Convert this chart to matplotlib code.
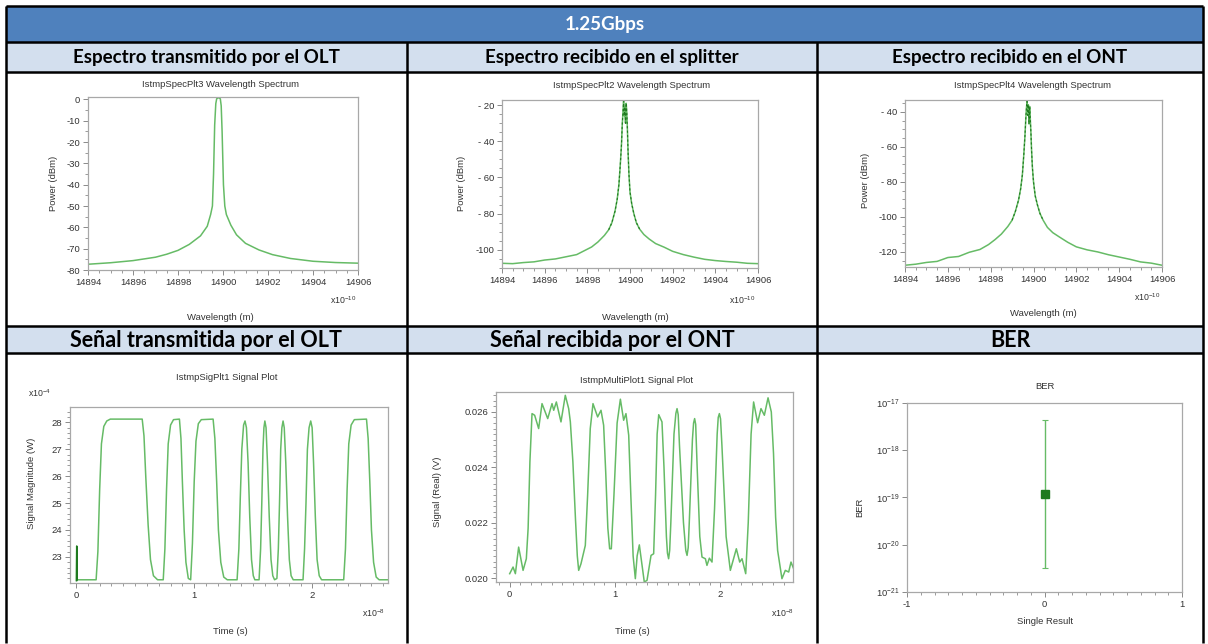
import matplotlib
matplotlib.use("Agg")
import matplotlib.pyplot as plt
from matplotlib.ticker import MultipleLocator, FixedLocator, FuncFormatter, NullLocator

W, H = 1208, 644

# ---------------- data ----------------
table_title = "1.25Gbps"
row1_headers = ["Espectro transmitido por el OLT",
                "Espectro recibido en el splitter",
                "Espectro recibido en el ONT"]
row2_headers = ["Señal transmitida por el OLT",
                "Señal recibida por el ONT",
                "BER"]

# Spectrum at the OLT output (wavelength in units of 1e-10 m, power in dBm)
wl_olt = [14894.0, 14895.0, 14896.0, 14897.0, 14897.5, 14898.0, 14898.5, 14899.0,
          14899.3, 14899.45, 14899.53, 14899.58, 14899.63, 14899.68, 14899.72,
          14899.80, 14899.88, 14899.92, 14899.96, 14900.02, 14900.08, 14900.15,
          14900.35, 14900.6, 14901.0, 14901.6, 14902.2, 14903.0, 14904.0,
          14905.0, 14906.0]
pw_olt = [-77.3, -76.6, -75.6, -74.0, -72.6, -70.8, -68.0, -64.0,
          -59.5, -54.0, -50.0, -35.0, -12.0, -2.0, 0.3,
          0.8, 0.3, -3.0, -15.0, -40.0, -50.0, -54.0,
          -59.0, -63.5, -67.5, -70.6, -72.8, -74.6, -75.9,
          -76.5, -76.8]

# Spectrum after the splitter
wl_split = [14894.0, 14894.5, 14895.0, 14895.5, 14896.0, 14896.5, 14897.0, 14897.5,
            14897.9, 14898.2, 14898.5, 14898.8, 14899.0, 14899.15, 14899.3, 14899.4,
            14899.48, 14899.55, 14899.6, 14899.64, 14899.67, 14899.70, 14899.73,
            14899.76, 14899.79, 14899.82, 14899.85, 14899.88, 14899.91, 14899.95,
            14900.0, 14900.08, 14900.18, 14900.3, 14900.45, 14900.65, 14900.9,
            14901.2, 14901.6, 14902.0, 14902.5, 14903.0, 14903.5, 14904.0,
            14904.5, 14905.0, 14905.5, 14906.0]
pw_split = [-107.4, -107.6, -107.0, -106.6, -105.6, -105.0, -103.8, -102.6,
            -100.2, -98.4, -95.6, -92.0, -88.9, -85.0, -78.5, -72.0,
            -64.0, -52.0, -42.0, -30.0, -24.0, -17.8, -26.0,
            -21.0, -30.0, -19.0, -24.0, -34.0, -46.0, -58.0,
            -68.0, -74.5, -80.0, -85.0, -88.5, -91.5, -94.0,
            -96.5, -98.5, -100.8, -102.6, -104.0, -105.2, -105.9,
            -106.4, -106.8, -107.4, -107.6]

# Spectrum received at the ONT
wl_ont = wl_split
pw_ont = [-127.6, -127.0, -126.0, -125.4, -123.2, -122.6, -120.2, -118.6,
          -115.8, -113.0, -109.8, -105.5, -101.9, -97.0, -90.5, -84.0,
          -76.0, -64.0, -54.0, -44.0, -38.0, -34.0, -42.0,
          -36.0, -47.0, -37.0, -44.0, -52.0, -62.0, -72.0,
          -80.0, -88.0, -93.0, -98.0, -101.9, -106.0, -109.0,
          -111.4, -114.5, -117.1, -118.8, -120.0, -121.6, -122.9,
          -124.2, -125.7, -126.4, -127.6]

# Transmitted signal (time in 1e-8 s, magnitude in 1e-4 W)
t_tx = [0.004, 0.006, 0.009, 0.170,
        0.185, 0.200, 0.215, 0.235, 0.260, 0.290, 0.560,
        0.575, 0.590, 0.610, 0.630, 0.655, 0.690, 0.738,
        0.752, 0.766, 0.780, 0.800, 0.825, 0.875,
        0.888, 0.900, 0.915, 0.930, 0.950, 0.970,
        0.985, 1.000, 1.015, 1.035, 1.060, 1.160,
        1.175, 1.190, 1.205, 1.225, 1.250, 1.280, 1.363,
        1.378, 1.390, 1.403, 1.418, 1.430, 1.442, 1.456, 1.470, 1.485, 1.500, 1.513, 1.549,
        1.562, 1.572, 1.582, 1.590, 1.598, 1.608, 1.620, 1.635, 1.650, 1.665, 1.680, 1.700,
        1.712, 1.722, 1.732, 1.742, 1.752, 1.762, 1.775, 1.790, 1.805, 1.820, 1.838, 1.921,
        1.934, 1.946, 1.958, 1.972, 1.986, 1.998, 2.010, 2.025, 2.040, 2.058, 2.078, 2.265,
        2.280, 2.294, 2.308, 2.328, 2.355, 2.458,
        2.472, 2.486, 2.500, 2.518, 2.540, 2.565, 2.660]
v_tx = [22.12, 23.40, 22.15, 22.15,
        23.20, 25.50, 27.20, 27.85, 28.05, 28.12, 28.12,
        27.50, 26.00, 24.20, 22.90, 22.30, 22.15, 22.15,
        23.30, 25.50, 27.20, 27.90, 28.10, 28.12,
        27.40, 25.80, 24.00, 22.80, 22.20, 22.15,
        23.50, 25.80, 27.30, 27.95, 28.10, 28.12,
        27.40, 25.80, 24.00, 22.80, 22.25, 22.15, 22.15,
        23.30, 25.20, 27.00, 27.90, 28.05, 27.80, 26.50, 24.50, 22.90, 22.30, 22.15, 22.15,
        23.30, 25.00, 27.00, 27.80, 28.05, 27.80, 26.50, 24.50, 22.90, 22.30, 22.15, 22.20,
        23.30, 25.00, 27.00, 27.80, 28.05, 27.80, 26.50, 24.50, 22.90, 22.30, 22.15, 22.15,
        23.30, 25.00, 27.00, 27.80, 28.05, 27.80, 26.50, 24.50, 22.90, 22.30, 22.15, 22.15,
        23.30, 25.50, 27.20, 27.90, 28.10, 28.12,
        27.40, 25.80, 24.00, 22.80, 22.25, 22.15, 22.15]

# Received signal at the ONT (time in 1e-8 s, volts)
t_rx = [0.000, 0.032, 0.054, 0.085, 0.127, 0.158, 0.175, 0.192, 0.212, 0.237,
        0.275, 0.307, 0.361, 0.402, 0.418, 0.443, 0.487, 0.528, 0.560, 0.576,
        0.600, 0.625, 0.642, 0.655, 0.677, 0.718, 0.740, 0.765, 0.791, 0.835,
        0.867, 0.892, 0.912, 0.932, 0.949, 0.965, 0.990, 1.020, 1.051, 1.082,
        1.104, 1.130, 1.150, 1.172, 1.193, 1.210, 1.231, 1.252, 1.278, 1.304,
        1.342, 1.367, 1.385, 1.400, 1.415, 1.446, 1.465, 1.488, 1.498, 1.509,
        1.519, 1.530, 1.560, 1.578, 1.589, 1.600, 1.612, 1.650, 1.672, 1.684,
        1.695, 1.705, 1.735, 1.746, 1.756, 1.766, 1.780, 1.805, 1.826, 1.858,
        1.873, 1.896, 1.921, 1.945, 1.970, 1.980, 1.991, 2.002, 2.015, 2.055,
        2.095, 2.152, 2.184, 2.206, 2.241, 2.265, 2.292, 2.316, 2.354, 2.386,
        2.418, 2.453, 2.484, 2.505, 2.525, 2.544, 2.585, 2.617, 2.649, 2.671,
        2.696]
v_rx = [0.02016, 0.02040, 0.02016, 0.02112, 0.02028, 0.02070, 0.02180, 0.02420, 0.02594, 0.02588,
        0.02540, 0.02630, 0.02576, 0.02630, 0.02606, 0.02636, 0.02564, 0.02660, 0.02612, 0.02564,
        0.02420, 0.02210, 0.02080, 0.02028, 0.02052, 0.02118, 0.02300, 0.02540, 0.02630, 0.02582,
        0.02606, 0.02552, 0.02380, 0.02180, 0.02106, 0.02106, 0.02300, 0.02560, 0.02646, 0.02570,
        0.02594, 0.02516, 0.02300, 0.02080, 0.01998, 0.02080, 0.02120, 0.02060, 0.01986, 0.01992,
        0.02082, 0.02088, 0.02300, 0.02520, 0.02590, 0.02564, 0.02400, 0.02150, 0.02090, 0.02070,
        0.02100, 0.02200, 0.02520, 0.02595, 0.02612, 0.02590, 0.02480, 0.02200, 0.02100, 0.02082,
        0.02110, 0.02200, 0.02500, 0.02560, 0.02576, 0.02555, 0.02400, 0.02150, 0.02076, 0.02070,
        0.02046, 0.02072, 0.02058, 0.02250, 0.02520, 0.02580, 0.02594, 0.02575, 0.02480, 0.02150,
        0.02028, 0.02106, 0.02058, 0.02070, 0.02016, 0.02200, 0.02520, 0.02636, 0.02561, 0.02612,
        0.02588, 0.02651, 0.02600, 0.02450, 0.02220, 0.02100, 0.01998, 0.02028, 0.02022, 0.02058,
        0.02034]

# Bit error rate with its confidence range
ber_x = [0.0]
ber_value = [1.2e-19]
ber_upper = [4.4e-18]
ber_lower = [3.2e-21]

# ---------------- styling ----------------
plt.rcParams["font.family"] = ["Liberation Sans", "DejaVu Sans"]
plt.rcParams["mathtext.default"] = "regular"

GREEN = "#66bb66"
DARK_GREEN = "#1f7a1f"
FRAME = "#a8a8a8"
TXT = "#333333"
HEAD_BLUE = "#4f81bd"
SUB_BLUE = "#d3dfee"
FS = 6.8

fig = plt.figure(figsize=(W / 100, H / 100), dpi=100)
bg = fig.add_axes([0, 0, 1, 1])
bg.set_xlim(0, W)
bg.set_ylim(H, 0)
bg.axis("off")

# table background bands
L, R, TOP, BOT = 6, 1203, 6, 643
C1, C2 = 407, 817
bg.fill_between([L, R], TOP, 42, color=HEAD_BLUE, lw=0)
bg.fill_between([L, R], 42, 72, color=SUB_BLUE, lw=0)
bg.fill_between([L, R], 326, 353, color=SUB_BLUE, lw=0)

lw_tab = 1.8
for y in (TOP, 42, 72, 326, 353):
    bg.plot([L, R], [y, y], color="black", lw=lw_tab, solid_capstyle="butt")
for x in (L, R):
    bg.plot([x, x], [TOP, BOT], color="black", lw=lw_tab, solid_capstyle="butt")
for x in (C1, C2):
    bg.plot([x, x], [42, BOT], color="black", lw=lw_tab, solid_capstyle="butt")

head_font = ["Lato", "DejaVu Sans"]
bg.text((L + R) / 2, 24.5, table_title, color="white", fontsize=13.5, fontweight="bold",
        ha="center", va="center", family=head_font)
col_centers = [(L + C1) / 2, (C1 + C2) / 2, (C2 + R) / 2]
for cx, txt in zip(col_centers, row1_headers):
    bg.text(cx, 57.5, txt, fontsize=13.5, fontweight="bold", ha="center", va="center",
            family=head_font)
for cx, txt in zip(col_centers, row2_headers):
    bg.text(cx, 340, txt, fontsize=15.5, fontweight="bold", ha="center", va="center",
            family=head_font)


def add_ax(l, t, r, b):
    return fig.add_axes([l / W, 1 - b / H, (r - l) / W, (b - t) / H])


def style(ax):
    for s in ax.spines.values():
        s.set_color(FRAME)
        s.set_linewidth(0.9)
    ax.tick_params(which="both", direction="out", color="#8a8a8a", top=False, right=False,
                   labelsize=FS, labelcolor=TXT, pad=2)
    ax.tick_params(which="major", length=3.5, width=0.7)
    ax.tick_params(which="minor", length=2, width=0.6)


def label(x, y, s, rot=0, size=FS):
    bg.text(x, y, s, fontsize=size, color=TXT, ha="center", va="center", rotation=rot)


# ---- spectra ----
spec_specs = [
    dict(box=(88, 97, 358, 270), wl=wl_olt, pw=pw_olt, ylim=(-80, 1.1),
         yticks=list(range(-80, 1, 10)), name="IstmpSpecPlt3 Wavelength Spectrum",
         tx=220, ty=84, ylx=53, yly=183, xlx=220, xly=317, mx=343, my=300, dark=False,
         spaced=False),
    dict(box=(502, 100, 758, 268), wl=wl_split, pw=pw_split, ylim=(-110, -17.2),
         yticks=[-100, -80, -60, -40, -20], name="IstmpSpecPlt2 Wavelength Spectrum",
         tx=632, ty=85, ylx=462, yly=183, xlx=635, xly=317, mx=742, my=300, dark=True,
         spaced=True),
    dict(box=(905, 100, 1162, 267), wl=wl_ont, pw=pw_ont, ylim=(-128.6, -33.3),
         yticks=[-120, -100, -80, -60, -40], name="IstmpSpecPlt4 Wavelength Spectrum",
         tx=1032, ty=85, ylx=865, yly=180, xlx=1043, xly=313, mx=1147, my=297, dark=True,
         spaced=True),
]

for sp in spec_specs:
    ax = add_ax(*sp["box"])
    style(ax)
    ax.plot(sp["wl"], sp["pw"], color=GREEN, lw=1.1)
    if sp["dark"]:
        core_wl = [w for w in sp["wl"] if 14899.0 <= w <= 14900.5]
        core_pw = [p for w, p in zip(sp["wl"], sp["pw"]) if 14899.0 <= w <= 14900.5]
        ax.plot(core_wl, core_pw, color=DARK_GREEN, lw=0.8, ls=(0, (2, 2)))
    ax.set_xlim(14894, 14906)
    ax.set_ylim(*sp["ylim"])
    ax.xaxis.set_major_locator(MultipleLocator(2))
    ax.xaxis.set_minor_locator(MultipleLocator(0.5))
    ax.yaxis.set_major_locator(FixedLocator(sp["yticks"]))
    ax.yaxis.set_minor_locator(MultipleLocator(5))
    if sp["spaced"]:
        ax.yaxis.set_major_formatter(FuncFormatter(
            lambda v, p: f"- {abs(v):.0f}" if abs(v) < 100 else f"-{abs(v):.0f}"))
    else:
        ax.yaxis.set_major_formatter(FuncFormatter(
            lambda v, p: f"{v:.0f}" if v != 0 else "0"))
    ax.xaxis.set_major_formatter(FuncFormatter(lambda v, p: f"{v:.0f}"))
    label(sp["tx"], sp["ty"], sp["name"])
    label(sp["ylx"], sp["yly"], "Power (dBm)", rot=90)
    label(sp["xlx"], sp["xly"], "Wavelength (m)")
    label(sp["mx"], sp["my"], r"x10$^{-10}$", size=6.3)

# ---- transmitted signal ----
ax4 = add_ax(70, 407, 388, 583)
style(ax4)
ax4.plot(t_tx, v_tx, color=GREEN, lw=1.1)
ax4.plot(t_tx[:3], v_tx[:3], color=DARK_GREEN, lw=1.1)
ax4.set_xlim(-0.051, 2.64)
ax4.set_ylim(22.03, 28.57)
ax4.xaxis.set_major_locator(FixedLocator([0, 1, 2]))
ax4.xaxis.set_minor_locator(MultipleLocator(0.1))
ax4.yaxis.set_major_locator(FixedLocator([23, 24, 25, 26, 27, 28]))
ax4.yaxis.set_minor_locator(MultipleLocator(0.2))
ax4.xaxis.set_major_formatter(FuncFormatter(lambda v, p: f"{v:.0f}"))
ax4.yaxis.set_major_formatter(FuncFormatter(lambda v, p: f"{v:.0f}"))
label(227, 377, "IstmpSigPlt1 Signal Plot")
label(40, 393, r"x10$^{-4}$", size=6.3)
label(32, 483, "Signal Magnitude (W)", rot=90)
label(230, 632, "Time (s)")
label(373, 613, r"x10$^{-8}$", size=6.3)

# ---- received signal ----
ax5 = add_ax(496, 392, 793, 582)
style(ax5)
ax5.plot(t_rx, v_rx, color=GREEN, lw=1.1)
ax5.set_xlim(-0.13, 2.69)
ax5.set_ylim(0.01986, 0.02672)
ax5.xaxis.set_major_locator(FixedLocator([0, 1, 2]))
ax5.xaxis.set_minor_locator(MultipleLocator(0.1))
ax5.yaxis.set_major_locator(FixedLocator([0.020, 0.022, 0.024, 0.026]))
ax5.yaxis.set_minor_locator(MultipleLocator(0.0002))
ax5.xaxis.set_major_formatter(FuncFormatter(lambda v, p: f"{v:.0f}"))
ax5.yaxis.set_major_formatter(FuncFormatter(lambda v, p: f"{v:.3f}"))
label(637, 380, "IstmpMultiPlot1 Signal Plot")
label(438, 492, "Signal (Real) (V)", rot=90)
label(632, 632, "Time (s)")
label(782, 613, r"x10$^{-8}$", size=6.3)

# ---- BER ----
ax6 = add_ax(907, 403, 1182, 592)
style(ax6)
ax6.set_yscale("log")
yerr = [[v - lo for v, lo in zip(ber_value, ber_lower)],
        [hi - v for v, hi in zip(ber_value, ber_upper)]]
ax6.errorbar(ber_x, ber_value, yerr=yerr, fmt="s", color=GREEN, ecolor=GREEN,
             elinewidth=1.0, capsize=2.5, capthick=0.8, markersize=5.5,
             markerfacecolor=DARK_GREEN, markeredgecolor=DARK_GREEN)
ax6.set_xlim(-1, 1)
ax6.set_ylim(1e-21, 1e-17)
ax6.xaxis.set_major_locator(FixedLocator([-1, 0, 1]))
ax6.xaxis.set_minor_locator(MultipleLocator(0.1))
ax6.yaxis.set_major_locator(FixedLocator([1e-21, 1e-20, 1e-19, 1e-18, 1e-17]))
ax6.yaxis.set_minor_locator(NullLocator())
ax6.set_yticklabels([r"10$^{-21}$", r"10$^{-20}$", r"10$^{-19}$", r"10$^{-18}$",
                     r"10$^{-17}$"])
ax6.xaxis.set_major_formatter(FuncFormatter(lambda v, p: f"{v:.0f}"))
label(1045, 386, "BER")
label(860, 507, "BER", rot=90)
label(1045, 622, "Single Result")

fig.savefig("out.png", dpi=100)
